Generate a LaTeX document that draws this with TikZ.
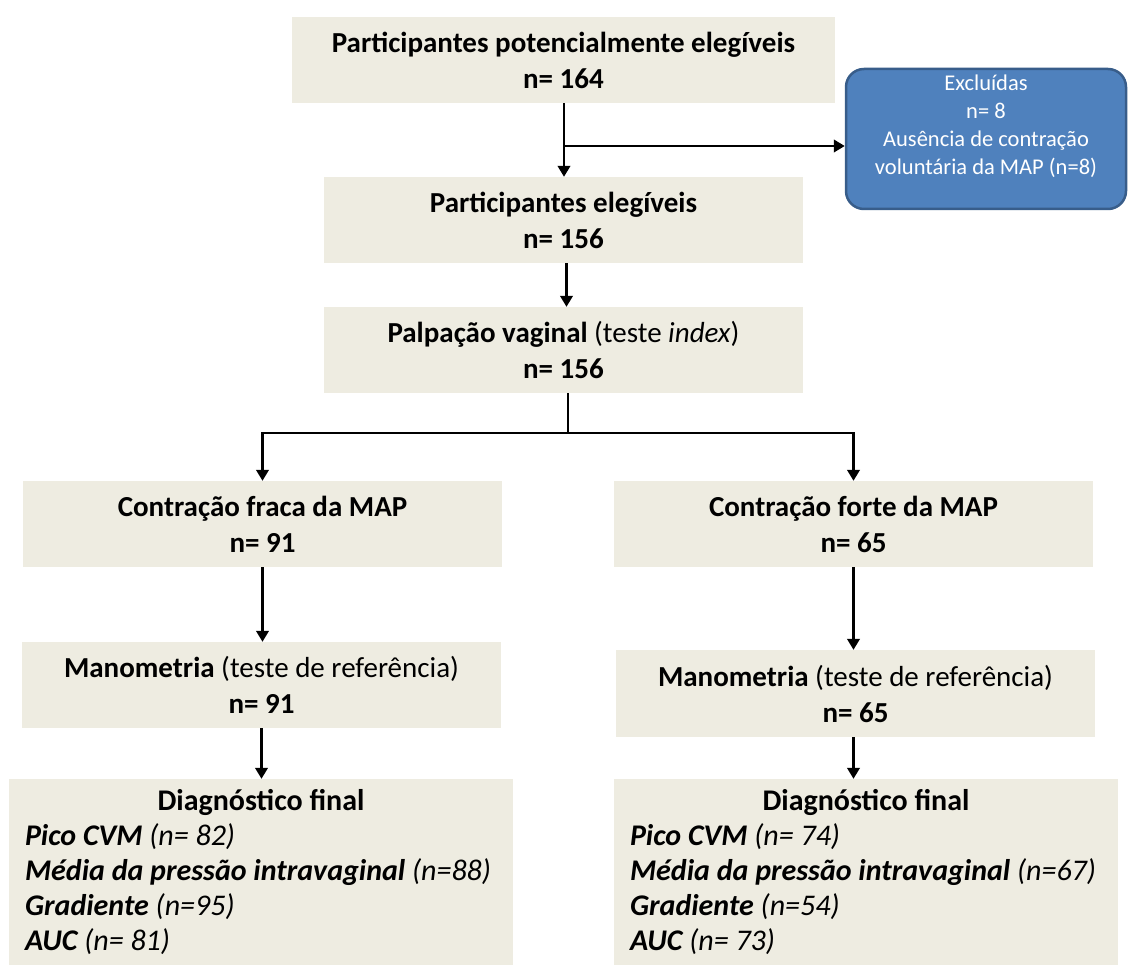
\documentclass[tikz,border=0pt]{standalone}
\usepackage{fontspec}
\setmainfont{Carlito}
\usetikzlibrary{arrows.meta,calc}
\definecolor{boxfill}{HTML}{EEECE1}
\definecolor{exfill}{HTML}{4F81BD}
\definecolor{exdraw}{HTML}{385D8A}
\begin{document}
\begin{tikzpicture}[x=1pt,y=-1pt,
 box/.style={fill=boxfill, draw=none, align=center, inner sep=0pt,
   minimum width=479pt, minimum height=86pt, font=\fontsize{29}{36}\selectfont},
 diagbox/.style={fill=boxfill, draw=none, align=flush left, inner xsep=16pt, inner ysep=0pt,
   text width=472pt, minimum height=186pt, font=\fontsize{30}{35}\selectfont},
 exbox/.style={fill=exfill, draw=exdraw, line width=2.5pt, rounded corners=18pt,
   text=white, inner sep=0pt, minimum width=280pt, minimum height=140pt,
   font=\fontsize{22.5}{28}\selectfont},
 flow/.style={line width=2.5pt, -{Triangle[width=12.5pt,length=11pt]}},
 link/.style={line width=2.5pt},
]
\useasboundingbox (0,0) rectangle (1128,965);

\node[box, minimum width=543pt] (b1) at (563.5,60)
  {\textbf{Participantes potencialmente elegíveis}\\\textbf{n= 164}};
\node[box] (b2) at (563.5,220)
  {\textbf{Participantes elegíveis}\\\textbf{n= 156}};
\node[box] (b3) at (563.5,350)
  {\textbf{Palpação vaginal} (teste \textit{index})\\\textbf{n= 156}};
\node[exbox] (ex) at (986,139)
  {\raisebox{6.5pt}[0pt][0pt]{\begin{tabular}{@{}c@{}}Excluídas\\n= 8\\Ausência de contração\\voluntária da MAP (n=8)\end{tabular}}};

\node[box] (l1) at (262.5,524) {\textbf{Contração fraca da MAP}\\\textbf{n= 91}};
\node[box] (r1) at (853.5,524) {\textbf{Contração forte da MAP}\\\textbf{n= 65}};
\node[box] (l2) at (261.5,685) {\textbf{Manometria} (teste de referência)\\\textbf{n= 91}};
\node[box, minimum height=87pt] (r2) at (855.5,693.5) {\textbf{Manometria} (teste de referência)\\\textbf{n= 65}};

\node[diagbox] (l3) at (261,872)
  {\hbox to \hsize{\hfil\textbf{Diagnóstico final}\hfil}\\
   \textit{\textbf{Pico CVM} (n= 82)}\\
   \textit{\textbf{Média da pressão intravaginal} (n=88)}\\
   \textit{\textbf{Gradiente} (n=95)}\\
   \textit{\textbf{AUC} (n= 81)}};
\node[diagbox] (r3) at (866,872)
  {\hbox to \hsize{\hfil\textbf{Diagnóstico final}\hfil}\\
   \textit{\textbf{Pico CVM} (n= 74)}\\
   \textit{\textbf{Média da pressão intravaginal} (n=67)}\\
   \textit{\textbf{Gradiente} (n=54)}\\
   \textit{\textbf{AUC} (n= 73)}};

% top connectors
\coordinate (br) at (564,146);
\draw[flow] (b1.south -| br) -- (b2.north -| br);
\draw[flow] (br) -- (br -| ex.west);
\draw[flow] ($(b2.south)+(3,0)$) -- ($(b3.north)+(3,0)$);

% split
\coordinate (sp) at (568,433);
\draw[link] (b3.south -| sp) -- (sp);
\draw[flow] (sp) -| (l1.north);
\draw[flow] (sp) -| (r1.north);

% columns
\draw[flow] (l1.south) -- (l1.south |- l2.north);
\draw[flow] (l2.south) -- (l2.south |- l3.north);
\draw[flow] (r1.south) -- (r1.south |- r2.north);
\draw[flow] (r2.south -| r1.south) -- (r1.south |- r3.north);
\end{tikzpicture}
\end{document}
